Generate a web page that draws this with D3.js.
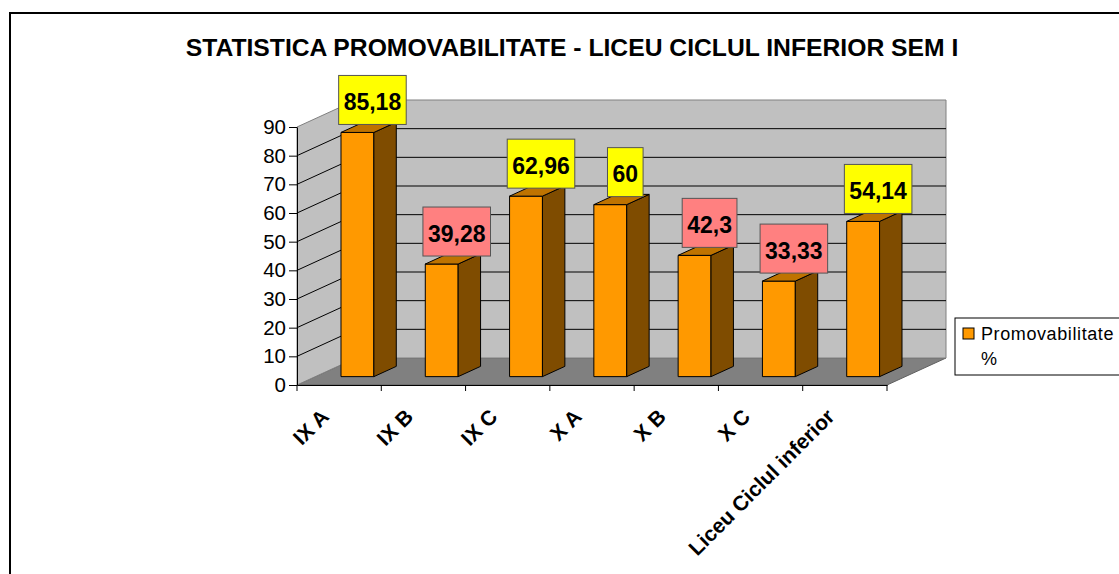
<!DOCTYPE html>
<html>
<head>
<meta charset="utf-8">
<script src="https://d3js.org/d3.v7.min.js"></script>
<style>
  body { margin: 0; background: #fff; }
  text { font-family: "Liberation Sans", Arial, sans-serif; }
</style>
</head>
<body>
<div id="container"></div>
<script>
// chart data
var categories = ["IX A", "IX B", "IX C", "X A", "X B", "X C", "Liceu Ciclul inferior"];
var values = [85.18, 39.28, 62.96, 60, 42.3, 33.33, 54.14];
var valueLabels = ["85,18", "39,28", "62,96", "60", "42,3", "33,33", "54,14"];
var yTicks = [0, 10, 20, 30, 40, 50, 60, 70, 80, 90];
var seriesName = ["Promovabilitate", "%"];
var title = "STATISTICA PROMOVABILITATE - LICEU CICLUL INFERIOR SEM I";

var width = 1119, height = 574;

var svg = d3.select("#container").append("svg")
	.attr("width", width)
	.attr("height", height);

// outer frame
svg.append("rect")
	.attr("x", 10).attr("y", 13)
	.attr("width", 1300).attr("height", 700)
	.attr("fill", "#fff")
	.attr("stroke", "#000")
	.attr("stroke-width", 2);

// scales
var x = d3.scaleBand()
	.domain(categories)
	.range([297, 887])
	.paddingInner(0.61)
	.paddingOuter(0.305);

var y = d3.scaleLinear()
	.domain([0, 90])
	.range([385, 127]);

// depth vector of the 3d box
var DX = 59, DY = -27;
var f0 = 0.31, f1 = 0.69;

function pt(px, v, f) {
	return [px + f * DX, y(v) + f * DY];
}
function poly(pts) {
	return pts.map(function(p) { return p.join(","); }).join(" ");
}

var xl = x.range()[0], xr = x.range()[1];
var vmax = y.domain()[1];

// floor
svg.append("polygon")
	.attr("points", poly([pt(xl, 0, 0), pt(xr, 0, 0), pt(xr, 0, 1), pt(xl, 0, 1)]))
	.attr("fill", "#808080")
	.attr("stroke", "#606060");

// back wall
svg.append("polygon")
	.attr("points", poly([pt(xl, 0, 1), pt(xl, vmax, 1), pt(xr, vmax, 1), pt(xr, 0, 1)]))
	.attr("fill", "#c0c0c0")
	.attr("stroke", "#808080");

// left wall
svg.append("polygon")
	.attr("points", poly([pt(xl, 0, 0), pt(xl, vmax, 0), pt(xl, vmax, 1), pt(xl, 0, 1)]))
	.attr("fill", "#c0c0c0")
	.attr("stroke", "#808080");

// gridlines
var grid = yTicks.filter(function(v) { return v > 0 && v < vmax; });
svg.selectAll(".gridL").data(grid).enter().append("line")
	.attr("x1", function(v) { return pt(xl, v, 0)[0]; })
	.attr("y1", function(v) { return pt(xl, v, 0)[1]; })
	.attr("x2", function(v) { return pt(xl, v, 1)[0]; })
	.attr("y2", function(v) { return pt(xl, v, 1)[1]; })
	.attr("stroke", "#000");
svg.selectAll(".gridB").data(grid).enter().append("line")
	.attr("x1", function(v) { return pt(xl, v, 1)[0]; })
	.attr("y1", function(v) { return pt(xl, v, 1)[1]; })
	.attr("x2", function(v) { return pt(xr, v, 1)[0]; })
	.attr("y2", function(v) { return pt(xr, v, 1)[1]; })
	.attr("stroke", "#000");

// y axis
var yAxis = svg.append("g")
	.attr("transform", "translate(" + xl + ",0)")
	.call(d3.axisLeft(y).tickValues(yTicks).tickSize(8).tickSizeOuter(0).tickPadding(3));
yAxis.selectAll("path, line").attr("stroke", "#000");
yAxis.selectAll("text")
	.style("font-size", "20.5px")
	.attr("fill", "#000");

// x axis
var xAxis = svg.append("g")
	.attr("transform", "translate(0," + y(0) + ")")
	.call(d3.axisBottom(x).tickSize(0).tickSizeOuter(0).tickFormat(""));
xAxis.select("path").attr("stroke", "#000");
var bounds = categories.map(function(c) { return x(c) - (x.step() - x.bandwidth()) / 2; });
bounds.push(xr);
svg.selectAll(".xtick").data(bounds).enter().append("line")
	.attr("x1", function(d) { return d; })
	.attr("x2", function(d) { return d; })
	.attr("y1", y(0))
	.attr("y2", y(0) + 6)
	.attr("stroke", "#000");

// category labels
svg.selectAll(".catlab").data(categories).enter().append("text")
	.attr("transform", function(c) {
		return "translate(" + (x(c) + x.bandwidth() / 2 - 9) + "," + 418 + ") rotate(-45)";
	})
	.attr("text-anchor", "end")
	.style("font-size", "21px")
	.style("font-weight", "bold")
	.text(function(c) { return c; });

// bars
var bw = x.bandwidth();
var bars = svg.selectAll(".bar").data(values).enter().append("g");
bars.append("polygon")
	.attr("points", function(v, i) {
		var x0 = x(categories[i]), x1 = x0 + bw;
		return poly([pt(x0, 0, f0), pt(x1, 0, f0), pt(x1, v, f0), pt(x0, v, f0)]);
	})
	.attr("fill", "#ff9900").attr("stroke", "#000");
bars.append("polygon")
	.attr("points", function(v, i) {
		var x1 = x(categories[i]) + bw;
		return poly([pt(x1, 0, f0), pt(x1, 0, f1), pt(x1, v, f1), pt(x1, v, f0)]);
	})
	.attr("fill", "#7f4c00").attr("stroke", "#000");
bars.append("polygon")
	.attr("points", function(v, i) {
		var x0 = x(categories[i]), x1 = x0 + bw;
		return poly([pt(x0, v, f0), pt(x1, v, f0), pt(x1, v, f1), pt(x0, v, f1)]);
	})
	.attr("fill", "#bf7300").attr("stroke", "#000");

// value labels
values.forEach(function(v, i) {
	var top = pt(x(categories[i]) + bw / 2, v, f0);
	var cx = top[0] + 15, bottom = top[1] - 8;
	var g = svg.append("g");
	var rect = g.append("rect");
	var t = g.append("text")
		.attr("x", cx)
		.attr("y", bottom - 14.5)
		.attr("text-anchor", "middle")
		.style("font-size", "23px")
		.style("font-weight", "bold")
		.text(valueLabels[i]);
	var tw = t.node().getComputedTextLength();
	rect.attr("x", cx - tw / 2 - 5)
		.attr("y", bottom - 49)
		.attr("width", tw + 10)
		.attr("height", 49)
		.attr("fill", v >= 50 ? "#ffff00" : "#ff8080")
		.attr("stroke", "#555");
});

// title
svg.append("text")
	.attr("x", 572)
	.attr("y", 56)
	.attr("text-anchor", "middle")
	.style("font-size", "24.7px")
	.style("font-weight", "bold")
	.text(title);

// legend
var legend = svg.append("g");
legend.append("rect")
	.attr("x", 955).attr("y", 318)
	.attr("width", 220).attr("height", 57)
	.attr("fill", "#fff").attr("stroke", "#000");
legend.append("rect")
	.attr("x", 963).attr("y", 328)
	.attr("width", 11).attr("height", 11)
	.attr("fill", "#ff9900").attr("stroke", "#000");
legend.selectAll(".legtxt").data(seriesName).enter().append("text")
	.attr("x", 981)
	.attr("y", function(d, i) { return 340 + i * 25; })
	.style("font-size", "18px")
	.style("letter-spacing", "0.6px")
	.text(function(d) { return d; });
</script>
</body>
</html>
